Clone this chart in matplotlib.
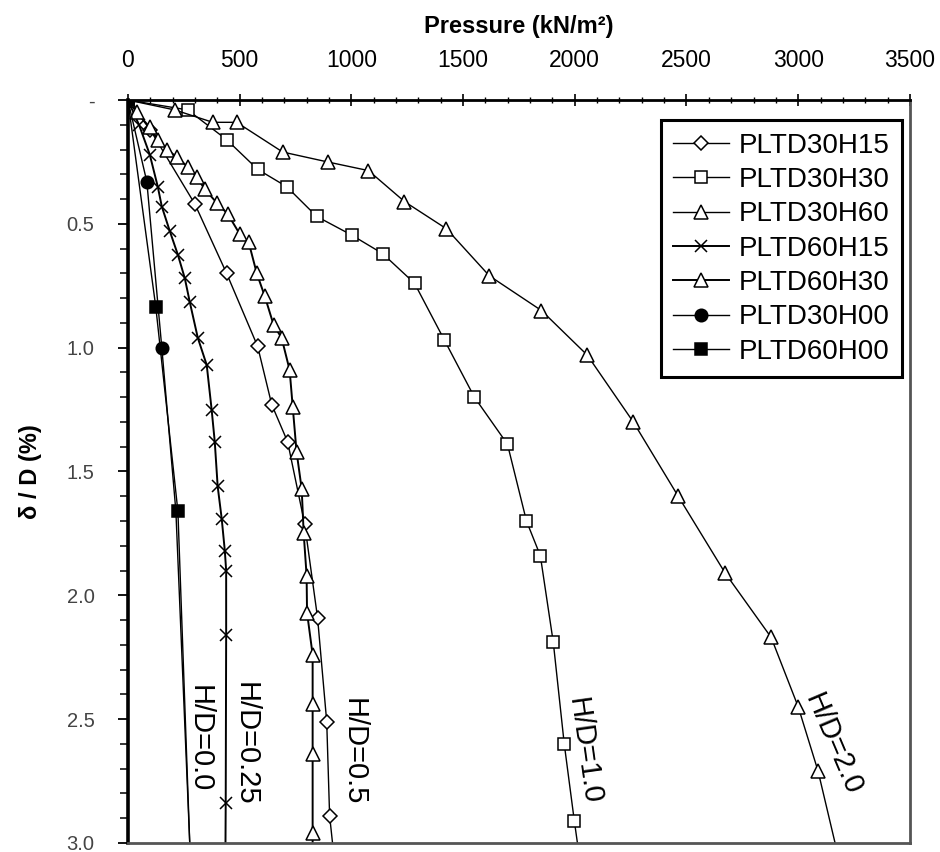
import matplotlib
matplotlib.use("Agg")
import matplotlib.pyplot as plt
from matplotlib.ticker import MultipleLocator, FixedLocator

plt.rcParams['font.family'] = ['Liberation Sans', 'DejaVu Sans']

# ---------------- data ----------------
p_d30h15 = [0, 100, 300, 442, 581, 644, 715, 791, 849, 890, 903, 916]
s_d30h15 = [0, 0.12, 0.42, 0.70, 0.995, 1.23, 1.38, 1.71, 2.09, 2.51, 2.89, 3.0]

p_d30h30 = [0, 268, 442, 581, 711, 845, 1001, 1140, 1283, 1417, 1551, 1699, 1784, 1846, 1904, 1953, 1998, 2012]
s_d30h30 = [0, 0.04, 0.16, 0.28, 0.35, 0.47, 0.545, 0.62, 0.74, 0.97, 1.20, 1.39, 1.70, 1.84, 2.19, 2.60, 2.91, 3.0]

p_d30h60 = [0, 210, 380, 487, 693, 894, 1077, 1238, 1426, 1618, 1851, 2056, 2262, 2463, 2673, 2879, 3000, 3089, 3165]
s_d30h60 = [0, 0.04, 0.09, 0.09, 0.21, 0.25, 0.285, 0.41, 0.52, 0.71, 0.85, 1.03, 1.30, 1.60, 1.91, 2.17, 2.45, 2.71, 3.0]

p_d60h15 = [0, 50, 98, 134, 152, 188, 224, 255, 277, 313, 353, 375, 389, 402, 420, 434, 440, 440, 438, 437]
s_d60h15 = [0, 0.10, 0.22, 0.35, 0.43, 0.53, 0.625, 0.72, 0.815, 0.96, 1.07, 1.25, 1.38, 1.56, 1.69, 1.82, 1.90, 2.16, 2.84, 3.0]

p_d60h30 = [0, 40, 98, 134, 175, 219, 268, 308, 344, 398, 447, 500, 541, 577, 612, 653, 688, 724, 738, 755, 778, 787, 800, 802, 827, 827, 827, 827, 827]
s_d60h30 = [0, 0.05, 0.11, 0.16, 0.20, 0.23, 0.27, 0.31, 0.36, 0.415, 0.46, 0.54, 0.575, 0.70, 0.79, 0.91, 0.96, 1.09, 1.24, 1.42, 1.57, 1.75, 1.92, 2.07, 2.24, 2.44, 2.64, 2.96, 3.0]

p_d30h00 = [0, 85, 152, 215, 277]
s_d30h00 = [0, 0.33, 1.0, 1.66, 3.0]

p_d60h00 = [0, 125, 224, 277]
s_d60h00 = [0, 0.835, 1.66, 3.0]

series_names = ["PLTD30H15", "PLTD30H30", "PLTD30H60", "PLTD60H15",
                "PLTD60H30", "PLTD30H00", "PLTD60H00"]

hd_labels = ["H/D=0.0", "H/D=0.25", "H/D=0.5", "H/D=1.0", "H/D=2.0"]
hd_pos_p = [322, 527, 1012, 2040, 3156]
hd_pos_s = [2.58, 2.60, 2.63, 2.63, 2.60]
hd_rot = [-90, -90, -90, -82, -67]

x_ticks = [0, 500, 1000, 1500, 2000, 2500, 3000, 3500]
y_ticks = [0, 0.5, 1.0, 1.5, 2.0, 2.5, 3.0]
y_ticklabels = ["-", "0.5", "1.0", "1.5", "2.0", "2.5", "3.0"]

# ---------------- figure ----------------
fig = plt.figure(figsize=(9.4, 8.52), dpi=100)
ax = fig.add_axes([0.136, 0.0106, 0.832, 0.872])

lw = 1.0
ms = 9
common = dict(color='black', lw=lw, markeredgewidth=1.1, markeredgecolor='black')

ax.plot(p_d30h15, s_d30h15, marker='D', ms=7.5, mfc='white',
        markevery=list(range(len(p_d30h15) - 1)), label=series_names[0], **common)
ax.plot(p_d30h30, s_d30h30, marker='s', ms=ms, mfc='white',
        markevery=list(range(len(p_d30h30) - 1)), label=series_names[1], **common)
ax.plot(p_d30h60, s_d30h60, marker='^', ms=ms + 1, mfc='white',
        markevery=list(range(len(p_d30h60) - 1)), label=series_names[2], **common)
ax.plot(p_d60h15, s_d60h15, marker='x', ms=ms, mfc='white',
        markevery=list(range(len(p_d60h15) - 1)), label=series_names[3],
        **{**common, 'lw': 1.4})
ax.plot(p_d60h30, s_d60h30, marker='^', ms=ms + 1, mfc='white',
        markevery=list(range(len(p_d60h30) - 1)), label=series_names[4],
        **{**common, 'lw': 1.4})
ax.plot(p_d30h00, s_d30h00, marker='o', ms=ms, mfc='black',
        markevery=[0, 1, 2], label=series_names[5], **common)
ax.plot(p_d60h00, s_d60h00, marker='s', ms=ms, mfc='black',
        markevery=[0, 1, 2], label=series_names[6], **common)

for lab, px, sy, rot in zip(hd_labels, hd_pos_p, hd_pos_s, hd_rot):
    ax.text(px, sy, lab, rotation=rot, ha='center', va='center',
            fontsize=21, color='black')

ax.set_xlim(0, 3500)
ax.set_ylim(3.0, 0)

ax.xaxis.tick_top()
ax.xaxis.set_label_position('top')
ax.xaxis.set_major_locator(FixedLocator(x_ticks))
ax.xaxis.set_minor_locator(MultipleLocator(100))
ax.set_xticklabels([str(v) for v in x_ticks])
ax.tick_params(axis='x', which='major', direction='inout', length=8, width=1.2,
               labelsize=16.5, pad=16, colors='black')
ax.tick_params(axis='x', which='minor', direction='inout', length=5, width=1.0)

ax.yaxis.set_major_locator(FixedLocator(y_ticks))
ax.yaxis.set_minor_locator(MultipleLocator(0.1))
ax.set_yticklabels(y_ticklabels)
ax.tick_params(axis='y', which='major', direction='out', length=7, width=1.3,
               labelsize=14.5, pad=17, labelcolor='#444444')
ax.tick_params(axis='y', which='minor', direction='out', length=6, width=1.1)

ax.set_xlabel("Pressure (kN/m²)", fontsize=17, fontweight='bold', labelpad=12)
ax.set_ylabel("δ / D (%)", fontsize=17, fontweight='bold', labelpad=18)

ax.spines['top'].set_linewidth(2.0)
ax.spines['left'].set_linewidth(2.6)
ax.spines['right'].set_linewidth(2.0)
ax.spines['right'].set_color('#555555')
ax.spines['bottom'].set_linewidth(2.0)
ax.spines['bottom'].set_color('#555555')

leg = ax.legend(loc='upper right', bbox_to_anchor=(0.99, 0.973), borderaxespad=0,
                fontsize=20, frameon=True, fancybox=False, framealpha=1,
                edgecolor='black', handlelength=2.0, handletextpad=0.35,
                labelspacing=0.3, borderpad=0.45)
leg.get_frame().set_linewidth(2.2)

fig.savefig("out.png", dpi=100)
